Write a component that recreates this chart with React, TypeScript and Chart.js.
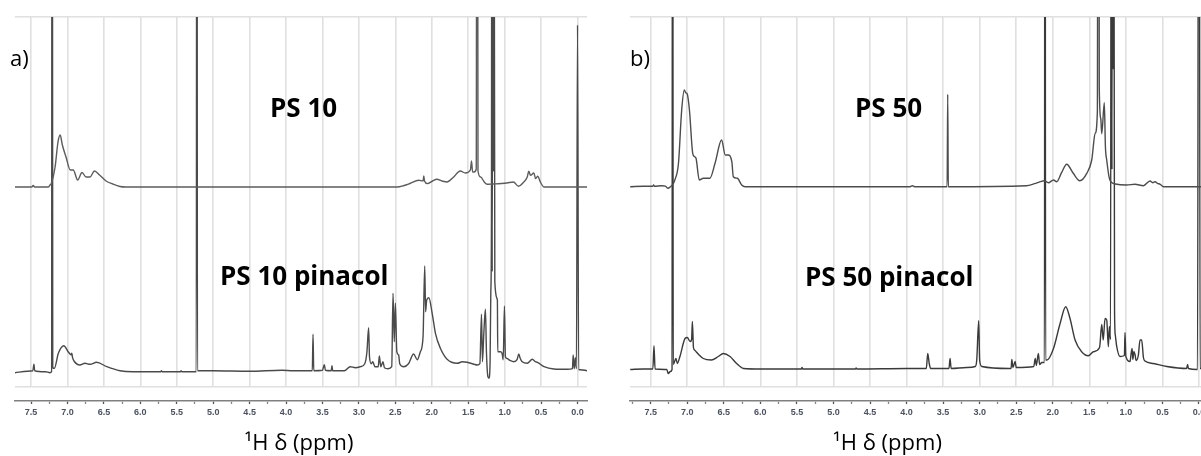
import React, { useEffect, useRef } from "react";
import { Chart, registerables } from "chart.js";

Chart.register(...registerables);

type Pt = [number, number];

// ppm tick labels
const majorStep = 0.5;
const minorStep = 0.25;

// Spectrum values: [chemical shift (ppm), intensity above own baseline]
const ps10: Pt[] = [
  [7.72, 0], [7.49, 0], [7.47, 1.5], [7.45, 0], [7.26, 0], [7.24, 2], [7.225, 3],
  [7.17, 20], [7.13, 45], [7.1, 52], [7.07, 42], [7.02, 30], [6.96, 17], [6.92, 17],
  [6.86, 7], [6.8, 14.5], [6.745, 10], [6.69, 10], [6.63, 16], [6.56, 12], [6.47, 6],
  [6.38, 3], [6.28, 0.5], [6.2, 0], [2.48, 0], [2.38, 1.5], [2.3, 3.5], [2.18, 6.7],
  [2.12, 6], [2.11, 11], [2.1, 6], [2.06, 3.4], [1.99, 6], [1.93, 7.7], [1.86, 6],
  [1.79, 5], [1.7, 10], [1.61, 16], [1.54, 14], [1.47, 17], [1.455, 26], [1.44, 15],
  [1.42, 15], [1.39, 18], [1.378, 900], [1.366, 16], [1.33, 10], [1.28, 5], [1.24, 2.7],
  [1.17, 3], [1.05, 3.5], [0.97, 4], [0.88, 5], [0.81, 0.7], [0.75, 4], [0.69, 10],
  [0.67, 15.7], [0.645, 11.7], [0.6, 14], [0.575, 8.4], [0.545, 10.7], [0.51, 5],
  [0.46, 0], [-0.13, 0],
];

const ps10Pinacol: Pt[] = [
  [7.72, -1], [7.55, 0.5], [7.475, 1], [7.46, 7.4], [7.45, 1], [7.3, 0], [7.24, -1],
  [7.218, 0], [7.21, 1000], [7.202, 4], [7.18, 3.4], [7.125, 18.4], [7.05, 26],
  [6.99, 20], [6.95, 17], [6.94, 18.4], [6.93, 14], [6.91, 10.7], [6.83, 6.7],
  [6.76, 8.4], [6.69, 7.4], [6.6, 9.4], [6.46, 5], [6.28, 1], [6.1, 0], [5.72, 0],
  [5.71, 1], [5.7, 0], [5.45, 0], [5.44, 1], [5.43, 0], [5.232, 0], [5.224, 1000],
  [5.216, 1], [5.0, 1], [4.5, 0.5], [4.06, 1.5], [3.9, 1], [3.64, 1], [3.63, 37.4],
  [3.62, 1], [3.5, 1.5], [3.475, 7], [3.46, 1.5], [3.38, 1], [3.37, 6], [3.36, 1],
  [3.2, 1], [3.12, 5], [3.05, 4], [2.98, 5], [2.92, 8], [2.89, 20], [2.867, 44],
  [2.855, 15], [2.83, 8], [2.81, 10], [2.78, 5], [2.735, 5], [2.72, 15.7], [2.7, 5],
  [2.67, 10], [2.65, 4], [2.6, 3], [2.55, 5], [2.532, 78.4], [2.515, 30], [2.5, 68.4],
  [2.48, 20], [2.455, 16.7], [2.44, 8], [2.385, 5], [2.32, 8], [2.25, 17.7], [2.2, 12],
  [2.157, 20], [2.12, 35], [2.097, 105.7], [2.085, 60], [2.07, 71.7], [2.04, 74],
  [1.995, 58.4], [1.95, 38.4], [1.882, 23.4], [1.79, 12.4], [1.65, 8.4], [1.58, 10],
  [1.515, 9.4], [1.42, 7.5], [1.378, 6.7], [1.34, 8], [1.318, 57.4], [1.305, 10],
  [1.286, 38.4], [1.264, 62.4], [1.25, 20], [1.23, -5], [1.215, -6.6], [1.2, 10],
  [1.19, 80], [1.181, 153.4], [1.177, 600], [1.171, 100], [1.159, 600], [1.153, 200],
  [1.146, 600], [1.135, 90], [1.1, 71.7], [1.095, 20], [1.056, 20],
  [1.034, 18], [1.02, 12], [1.003, 65.7], [0.99, 15], [0.975, 13.4], [0.92, 11],
  [0.875, 10], [0.83, 12], [0.806, 17.7], [0.79, 14], [0.76, 10], [0.69, 8.4],
  [0.62, 12.4], [0.58, 10], [0.55, 9.4], [0.46, 5], [0.325, 2.7], [0.14, 2.4],
  [0.07, 3], [0.06, 16.7], [0.045, 3], [0.03, 14], [0.015, 3], [0.0, 346.7],
  [-0.015, 2], [-0.04, 2], [-0.13, 1],
];

const ps50: Pt[] = [
  [7.78, 0], [7.6, 0.5], [7.47, 0.5], [7.46, 1.7], [7.45, 0.5], [7.35, 1], [7.3, 0.5],
  [7.26, -1.6], [7.23, 0], [7.2, 2], [7.17, 6.7], [7.12, 23.4], [7.076, 76.7],
  [7.04, 96.7], [7.02, 94], [7.0, 92.7], [6.97, 76.7], [6.925, 33.4], [6.9, 30],
  [6.88, 28.4], [6.835, 6.7], [6.78, 8.4], [6.69, 8.4], [6.62, 23.4], [6.53, 46.7],
  [6.48, 31.7], [6.44, 31.7], [6.39, 25], [6.37, 10], [6.315, 8.4], [6.255, 1.7],
  [6.21, 0], [3.95, 0], [3.92, 1], [3.89, 0], [3.445, 0], [3.437, 92.4], [3.429, 0],
  [2.36, 1], [2.25, 3], [2.17, 5], [2.12, 6], [2.06, 4], [1.99, 6.7], [1.946, 5],
  [1.88, 14], [1.81, 22.4], [1.72, 13.4], [1.63, 6], [1.535, 13.4], [1.467, 26.7],
  [1.42, 53.4], [1.39, 75], [1.377, 900], [1.364, 100], [1.344, 68.4], [1.33, 53],
  [1.295, 84], [1.28, 40], [1.262, 26.7], [1.226, 8.4], [1.19, 4], [1.145, 2.7],
  [0.99, 1.7], [0.875, 2.4], [0.76, 1], [0.67, 5.7], [0.633, 4], [0.6, 5], [0.57, 3.4],
  [0.53, 2.4], [0.485, 0], [-0.1, 0],
];

const ps50Pinacol: Pt[] = [
  [7.78, 0], [7.6, 0.5], [7.47, 0.5], [7.455, 23.8], [7.44, 0.5], [7.28, 0], [7.26, -4],
  [7.23, -2], [7.208, 0], [7.2, 1000], [7.192, 5], [7.154, 11], [7.136, 6], [7.1, 13],
  [7.03, 31], [7.0, 32], [6.96, 28], [6.94, 30], [6.93, 48], [6.915, 22], [6.9, 19.5],
  [6.85, 15.5], [6.78, 11], [6.67, 9.5], [6.575, 13], [6.507, 16], [6.415, 13],
  [6.325, 6], [6.23, 1], [6.0, 0.5], [5.44, 0.5], [5.43, 2], [5.42, 0.5], [4.7, 0.5],
  [4.69, 1.5], [4.68, 0.5], [4.0, 1], [3.73, 1], [3.71, 16], [3.69, 6], [3.67, 1],
  [3.42, 1], [3.405, 11], [3.39, 1], [3.18, 2], [3.06, 3], [3.04, 9.5], [3.013, 48.8],
  [3.0, 9], [2.97, 3], [2.6, 1], [2.57, 1], [2.56, 10], [2.545, 2], [2.515, 8],
  [2.5, 2], [2.26, 3], [2.24, 11], [2.225, 4], [2.197, 16], [2.18, 5], [2.15, 7],
  [2.114, 7], [2.106, 1000], [2.098, 9.5], [2.08, 9.5], [1.99, 21], [1.9, 46],
  [1.823, 62.8], [1.764, 51], [1.695, 29.5], [1.605, 17.8], [1.514, 13.8],
  [1.445, 17.8], [1.36, 22], [1.33, 45], [1.31, 29.5], [1.285, 51], [1.262, 49.5],
  [1.24, 22.8], [1.226, 43], [1.21, 30], [1.2, 700], [1.19, 200], [1.185, 700],
  [1.175, 300], [1.168, 700], [1.155, 60], [1.145, 34.5], [1.125, 22.8], [1.08, 13],
  [1.02, 14], [1.012, 37], [1.0, 13], [0.943, 8], [0.93, 15], [0.915, 21], [0.905, 10],
  [0.89, 18], [0.875, 15], [0.86, 9], [0.83, 14], [0.806, 29.5], [0.784, 29.5],
  [0.76, 12], [0.738, 8.5], [0.625, 6], [0.44, 3], [0.17, 1], [0.155, 5], [0.145, 1],
  [0.02, 0], [0.0, 1000], [-0.015, 1], [-0.1, 1],
];

// ---- layout / style (kept separate from the data) ----
const CANVAS_H = 456;
const Y_MAX = 370;
const FONT = '"Open Sans", "DejaVu Sans", sans-serif';

type TextItem = { text: string; x: number; y: number; font: string; align: CanvasTextAlign };

type PanelCfg = {
  left: number;
  width: number;
  padLeft: number;
  padRight: number;
  ppmMin: number;
  ppmMax: number;
  upper: Pt[];
  lower: Pt[];
  upperOffset: number;
  lowerOffset: number;
  upperColor: string;
  lowerColor: string;
  texts: TextItem[];
};

const labelFont = `bold 26px ${FONT}`;
const tagFont = `22px ${FONT}`;
const titleFont = `22px ${FONT}`;

const panels: PanelCfg[] = [
  {
    left: 0,
    width: 600,
    padLeft: 15,
    padRight: 13,
    ppmMin: -0.13,
    ppmMax: 7.72,
    upper: ps10,
    lower: ps10Pinacol,
    upperOffset: 200,
    lowerOffset: 15.3,
    upperColor: "#5c5c5c",
    lowerColor: "#4a4a4a",
    texts: [
      { text: "a)", x: 10, y: 66, font: tagFont, align: "left" },
      { text: "PS 10", x: 270, y: 117, font: labelFont, align: "left" },
      { text: "PS 10 pinacol", x: 220, y: 285, font: labelFont, align: "left" },
      { text: "¹H δ (ppm)", x: 299, y: 450, font: titleFont, align: "center" },
    ],
  },
  {
    left: 600,
    width: 620,
    padLeft: 30,
    padRight: 14,
    ppmMin: -0.096,
    ppmMax: 7.783,
    upper: ps50,
    lower: ps50Pinacol,
    upperOffset: 200.3,
    lowerOffset: 17.5,
    upperColor: "#4c4c4c",
    lowerColor: "#3a3a3a",
    texts: [
      { text: "b)", x: 30, y: 66, font: tagFont, align: "left" },
      { text: "PS 50", x: 255, y: 117, font: labelFont, align: "left" },
      { text: "PS 50 pinacol", x: 205, y: 286, font: labelFont, align: "left" },
      { text: "¹H δ (ppm)", x: 287.5, y: 450, font: titleFont, align: "center" },
    ],
  },
];

function makeTextPlugin(items: TextItem[]) {
  return {
    id: "panelTexts",
    afterDraw(chart: Chart) {
      const ctx = chart.ctx;
      for (const t of items) {
        ctx.save();
        ctx.font = t.font;
        ctx.fillStyle = "#000";
        ctx.textAlign = t.align;
        ctx.textBaseline = "alphabetic";
        ctx.fillText(t.text, t.x, t.y);
        ctx.restore();
      }
    },
  };
}

const isMajor = (v: number) => Math.abs(v / majorStep - Math.round(v / majorStep)) < 1e-6;

function Panel({ cfg }: { cfg: PanelCfg }) {
  const ref = useRef<HTMLCanvasElement | null>(null);
  useEffect(() => {
    if (!ref.current) return;
    const toXY = (pts: Pt[], off: number) => pts.map(([x, y]) => ({ x, y: y + off }));
    const lineStyle = {
      borderWidth: 1.4,
      pointRadius: 0,
      cubicInterpolationMode: "monotone" as const,
      fill: false,
    };
    const chart = new Chart(ref.current, {
      type: "line",
      data: {
        datasets: [
          { data: toXY(cfg.upper, cfg.upperOffset), borderColor: cfg.upperColor, ...lineStyle },
          { data: toXY(cfg.lower, cfg.lowerOffset), borderColor: cfg.lowerColor, ...lineStyle },
        ],
      },
      options: {
        animation: false,
        responsive: false,
        devicePixelRatio: 1,
        parsing: false as any,
        normalized: true,
        layout: { padding: { top: 17, left: cfg.padLeft, right: cfg.padRight, bottom: 0 } },
        plugins: { legend: { display: false }, tooltip: { enabled: false }, title: { display: false } },
        events: [],
        scales: {
          x: {
            type: "linear",
            position: "bottom",
            reverse: true,
            min: cfg.ppmMin,
            max: cfg.ppmMax,
            weight: 0,
            ticks: { display: false, stepSize: majorStep, includeBounds: false },
            grid: { color: "#e0e0e0", lineWidth: 1.6, drawTicks: false },
            border: { display: false },
            afterFit: (s: any) => {
              s.height = 14;
            },
          },
          x2: {
            type: "linear",
            position: "bottom",
            reverse: true,
            min: cfg.ppmMin,
            max: cfg.ppmMax,
            weight: 1,
            ticks: {
              stepSize: minorStep,
              includeBounds: false,
              autoSkip: false,
              maxRotation: 0,
              padding: 3,
              color: "#4a5160",
              font: { family: '"Liberation Sans", Arial, sans-serif', size: 9, weight: "bold" },
              callback: (v: any) => (isMajor(Number(v)) ? Number(v).toFixed(1) : ""),
            },
            grid: {
              drawOnChartArea: false,
              drawTicks: true,
              tickLength: 3,
              tickColor: (c: any) => (c.tick && isMajor(c.tick.value) ? "#555" : "#888"),
              tickWidth: 1.3,
            },
            border: { display: true, color: "#808080", width: 1.6 },
            afterFit: (s: any) => {
              s.height = CANVAS_H - 401;
            },
          },
          y: {
            type: "linear",
            min: 0,
            max: Y_MAX,
            ticks: { display: false, stepSize: Y_MAX },
            grid: { color: "#e0e0e0", lineWidth: 1.6, drawTicks: false },
            border: { display: false },
            afterFit: (s: any) => {
              s.width = 0;
            },
          },
        },
      } as any,
      plugins: [makeTextPlugin(cfg.texts)],
    });
    return () => chart.destroy();
  }, [cfg]);
  return (
    <canvas
      ref={ref}
      width={cfg.width}
      height={CANVAS_H}
      style={{ position: "absolute", left: cfg.left, top: 0, width: cfg.width, height: CANVAS_H, display: "block" }}
    />
  );
}

export default function App() {
  return (
    <div
      style={{
        position: "absolute",
        left: 0,
        top: 0,
        width: 1201,
        height: CANVAS_H,
        overflow: "hidden",
        background: "#fff",
      }}
    >
      {panels.map((p, i) => (
        <Panel key={i} cfg={p} />
      ))}
    </div>
  );
}
